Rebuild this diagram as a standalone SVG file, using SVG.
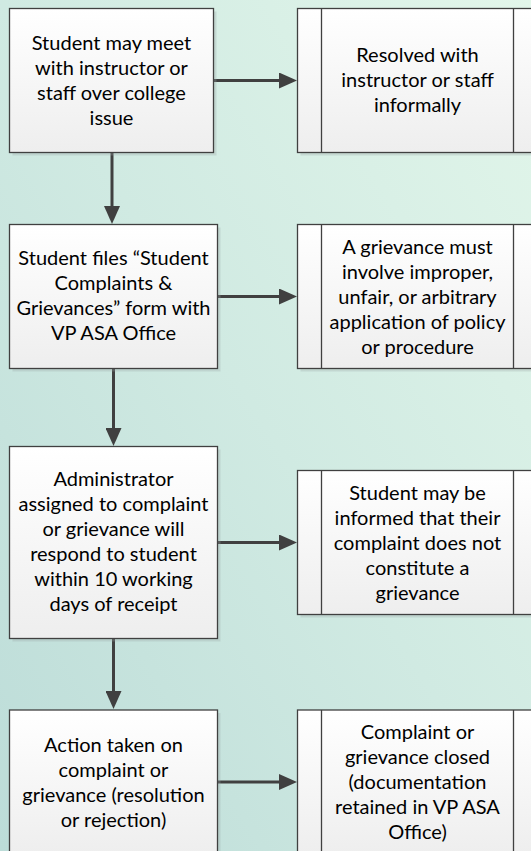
<svg xmlns="http://www.w3.org/2000/svg" width="531" height="851" viewBox="0 0 531 851">
<defs>
<linearGradient id="bg" x1="0" y1="1" x2="1" y2="0">
<stop offset="0" stop-color="#bcdcd8"/>
<stop offset="0.5" stop-color="#d0eae2"/>
<stop offset="1" stop-color="#e2f6ea"/>
</linearGradient>
<linearGradient id="boxfill" x1="0" y1="0" x2="0" y2="1">
<stop offset="0" stop-color="#ffffff"/>
<stop offset="1" stop-color="#eeeeee"/>
</linearGradient>
<marker id="ah" markerUnits="userSpaceOnUse" markerWidth="18" markerHeight="16" refX="2" refY="8" orient="auto">
<path d="M0,0 L18,8 L0,16 Z" fill="#404040"/>
</marker>
</defs>
<style>
.shadow{fill:#9aa6a4;opacity:0.3}
.box{fill:url(#boxfill);stroke:#404040;stroke-width:1.3}
.div{stroke:#404040;stroke-width:1.3}
.conn{stroke:#404040;stroke-width:3;fill:none;marker-end:url(#ah)}
text{font-family:Lato,"Open Sans","Liberation Sans",sans-serif;font-size:20px;fill:#000;text-anchor:middle}
</style>
<rect width="531" height="851" fill="url(#bg)"/>

<g id="connectors">
<line class="conn" x1="213.5" y1="80.5" x2="281" y2="80.5"/>
<line class="conn" x1="217.5" y1="296.5" x2="281" y2="296.5"/>
<line class="conn" x1="217.5" y1="542.5" x2="281" y2="542.5"/>
<line class="conn" x1="217.5" y1="782" x2="281" y2="782"/>
<line class="conn" x1="112" y1="152.5" x2="112" y2="208"/>
<line class="conn" x1="113.5" y1="368.5" x2="113.5" y2="430"/>
<line class="conn" x1="113.5" y1="638.5" x2="113.5" y2="693"/>
</g>

<g id="n1">
<rect class="shadow" x="12.5" y="11.5" width="204" height="144"/>
<rect class="box" x="9.5" y="8.5" width="204" height="144"/>
<text x="111.5" y="50">Student may meet</text>
<text x="111.5" y="75">with instructor or</text>
<text x="111.5" y="100">staff over college</text>
<text x="111.5" y="125">issue</text>
</g>

<g id="r1">
<rect class="shadow" x="300.5" y="11.5" width="240" height="144"/>
<rect class="box" x="297.5" y="8.5" width="240" height="144"/>
<line class="div" x1="321.5" y1="8.5" x2="321.5" y2="152.5"/>
<line class="div" x1="513.5" y1="8.5" x2="513.5" y2="152.5"/>
<text x="417.5" y="62">Resolved with</text>
<text x="417.5" y="87">instructor or staff</text>
<text x="417.5" y="112">informally</text>
</g>

<g id="n2">
<rect class="shadow" x="12.5" y="227.5" width="208" height="144"/>
<rect class="box" x="9.5" y="224.5" width="208" height="144"/>
<text x="113.5" y="265">Student files “Student</text>
<text x="113.5" y="290">Complaints &amp;</text>
<text x="113.5" y="315">Grievances” form with</text>
<text x="113.5" y="340">VP ASA Office</text>
</g>

<g id="r2">
<rect class="shadow" x="300.5" y="227.5" width="240" height="144"/>
<rect class="box" x="297.5" y="224.5" width="240" height="144"/>
<line class="div" x1="321.5" y1="224.5" x2="321.5" y2="368.5"/>
<line class="div" x1="513.5" y1="224.5" x2="513.5" y2="368.5"/>
<text x="417.5" y="253.5">A grievance must</text>
<text x="417.5" y="278.5">involve improper,</text>
<text x="417.5" y="303.5">unfair, or arbitrary</text>
<text x="417.5" y="328.5">application of policy</text>
<text x="417.5" y="353.5">or procedure</text>
</g>

<g id="n3">
<rect class="shadow" x="12.5" y="449.5" width="208" height="192"/>
<rect class="box" x="9.5" y="446.5" width="208" height="192"/>
<text x="113.5" y="486">Administrator</text>
<text x="113.5" y="511">assigned to complaint</text>
<text x="113.5" y="536">or grievance will</text>
<text x="113.5" y="561">respond to student</text>
<text x="113.5" y="586">within 10 working</text>
<text x="113.5" y="611">days of receipt</text>
</g>

<g id="r3">
<rect class="shadow" x="300.5" y="473.5" width="240" height="144"/>
<rect class="box" x="297.5" y="470.5" width="240" height="144"/>
<line class="div" x1="321.5" y1="470.5" x2="321.5" y2="614.5"/>
<line class="div" x1="513.5" y1="470.5" x2="513.5" y2="614.5"/>
<text x="417.5" y="499.5">Student may be</text>
<text x="417.5" y="524.5">informed that their</text>
<text x="417.5" y="549.5">complaint does not</text>
<text x="417.5" y="574.5">constitute a</text>
<text x="417.5" y="599.5">grievance</text>
</g>

<g id="n4">
<rect class="shadow" x="12.5" y="713" width="208" height="144"/>
<rect class="box" x="9.5" y="710" width="208" height="144"/>
<text x="113.5" y="751.5">Action taken on</text>
<text x="113.5" y="776.5">complaint or</text>
<text x="113.5" y="801.5">grievance (resolution</text>
<text x="113.5" y="826.5">or rejection)</text>
</g>

<g id="r4">
<rect class="shadow" x="300.5" y="713" width="240" height="144"/>
<rect class="box" x="297.5" y="710" width="240" height="144"/>
<line class="div" x1="321.5" y1="710" x2="321.5" y2="854"/>
<line class="div" x1="513.5" y1="710" x2="513.5" y2="854"/>
<text x="417.5" y="739">Complaint or</text>
<text x="417.5" y="764">grievance closed</text>
<text x="417.5" y="789">(documentation</text>
<text x="417.5" y="814">retained in VP ASA</text>
<text x="417.5" y="839">Office)</text>
</g>
</svg>
